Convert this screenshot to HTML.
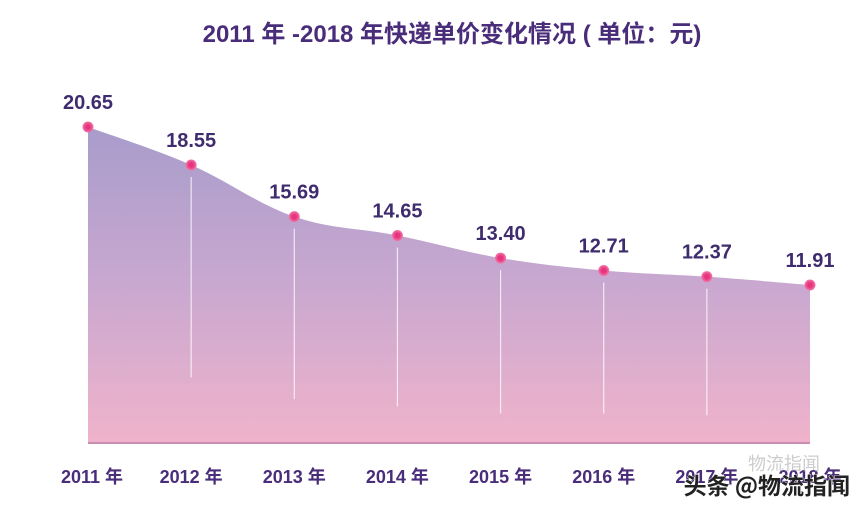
<!DOCTYPE html>
<html><head><meta charset="utf-8">
<style>
html,body{margin:0;padding:0;background:#fff;}
body{width:864px;height:508px;overflow:hidden;font-family:"Liberation Sans","Noto Sans CJK SC",sans-serif;}
</style></head>
<body>
<svg id="chart" width="864" height="508" viewBox="0 0 864 508" xmlns="http://www.w3.org/2000/svg">
<defs>
<linearGradient id="fillg" x1="0" y1="0" x2="0" y2="1">
<stop offset="0" stop-color="#a89ccb"/>
<stop offset="0.5" stop-color="#c9a8d0"/>
<stop offset="1" stop-color="#f0b3cb"/>
</linearGradient>
<radialGradient id="dotg"><stop offset="0.4" stop-color="#e8347f"/><stop offset="1" stop-color="#f07aa8"/></radialGradient>
</defs>
<text x="452" y="42" text-anchor="middle" font-size="24" font-weight="bold" fill="#4a2d7a" font-family="Liberation Sans, Noto Sans CJK SC, sans-serif">2011 年 -2018 年快递单价变化情况 ( 单位：元)</text>
<g id="plot"></g>
<text x="820" y="470" text-anchor="end" font-size="18" fill="#aaa" fill-opacity="0.6" font-family="Noto Sans CJK SC, sans-serif">物流指闻</text>
<text x="850" y="494" text-anchor="end" font-size="23" font-weight="bold" fill="#222" stroke="#fff" stroke-width="0.8" paint-order="stroke" font-family="Noto Sans CJK SC, sans-serif">头条 @物流指闻</text>
</svg>
<script>
const categories = ["2011 年","2012 年","2013 年","2014 年","2015 年","2016 年","2017 年","2018 年"];
const values = [20.65, 18.55, 15.69, 14.65, 13.40, 12.71, 12.37, 11.91];
const valueLabels = ["20.65","18.55","15.69","14.65","13.40","12.71","12.37","11.91"];
const dropEnds = [8.5, 6.8, 5.6, 5.2, 4.8, 4.8, 4.7, 4.6];

const NS="http://www.w3.org/2000/svg";
const g=document.getElementById('plot');
const x0=88, x1=810, yTop=127, yBase=443, vTop=20.65, vBase=3.17;
function xs(i){return x0+(x1-x0)*i/(categories.length-1);}
function ys(v){return yBase-(v-vBase)/(vTop-vBase)*(yBase-yTop);}
function mk(tag,attrs){const e=document.createElementNS(NS,tag);for(const k in attrs)e.setAttribute(k,attrs[k]);g.appendChild(e);return e;}

const pts=values.map((v,i)=>[xs(i),ys(v)]);
let d=`M${pts[0][0]},${pts[0][1]}`;
for(let i=0;i<pts.length-1;i++){
  const p0=pts[Math.max(0,i-1)],p1=pts[i],p2=pts[i+1],p3=pts[Math.min(pts.length-1,i+2)];
  const t=0.18;
  const c1=[p1[0]+(p2[0]-p0[0])*t,p1[1]+(p2[1]-p0[1])*t];
  const c2=[p2[0]-(p3[0]-p1[0])*t,p2[1]-(p3[1]-p1[1])*t];
  d+=` C${c1[0]},${c1[1]} ${c2[0]},${c2[1]} ${p2[0]},${p2[1]}`;
}
const area=mk('path',{d:d+` L${x1},${yBase} L${x0},${yBase} Z`,fill:'url(#fillg)'});


const base=mk('line',{x1:x0,x2:x1,y1:yBase,y2:yBase,stroke:'#c98fb0','stroke-width':2});



values.forEach((v,i)=>{
  const x=xs(i),y=ys(v);
  if(i>0&&i<values.length-1){
    const dl=mk('line',{x1:x,x2:x,y1:y+12,y2:ys(dropEnds[i]),stroke:'#fff','stroke-opacity':0.75,'stroke-width':1.2});
    
    
  }
  const c=mk('circle',{cx:x,cy:y,r:5.5,fill:'url(#dotg)'});
  
  
  const t=mk('text',{x:x,y:y-18,'text-anchor':'middle','font-size':20,'font-weight':'bold',fill:'#3f2c6e'});
  t.textContent=valueLabels[i];
  
  
  const xl=mk('text',{x:x+(i==0?4:0),y:483,'text-anchor':'middle','font-size':18,'font-weight':'bold',fill:'#4a2d7a','font-family':'Liberation Sans, Noto Sans CJK SC, sans-serif'});
  xl.textContent=categories[i];
  
  
});
</script>
</body></html>
